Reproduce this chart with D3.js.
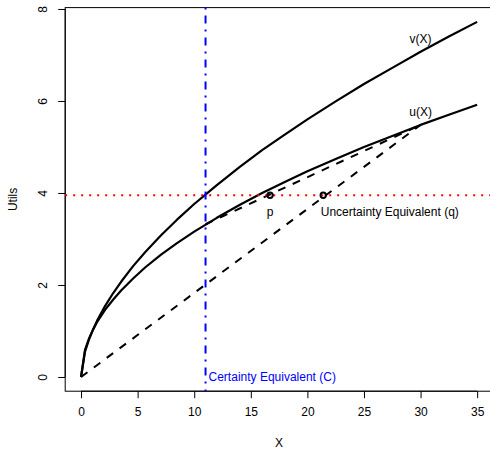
<!DOCTYPE html>
<html><head><meta charset="utf-8">
<script src="https://cdn.jsdelivr.net/npm/d3@7"></script>
<style>
html,body{margin:0;padding:0;background:#fff;}
text{font-family:"Liberation Sans",Arial,Helvetica,sans-serif;}
</style></head>
<body><svg id="c" width="490" height="449"></svg>
<script>
// ---- data ----
const xs = [0, 0.35, 0.71, 1.06, 1.41, 2.12, 2.83, 3.54, 4.6, 5.66, 7.07, 8.48, 10, 12, 14, 16, 18, 20, 22.5, 25, 27.5, 30, 32.5, 35];
const uVals = [0, 0.59, 0.84, 1.03, 1.19, 1.46, 1.68, 1.88, 2.14, 2.38, 2.66, 2.91, 3.16, 3.46, 3.74, 4.00, 4.24, 4.47, 4.74, 5.00, 5.24, 5.48, 5.70, 5.92];
const vVals = [0, 0.55, 0.82, 1.03, 1.22, 1.54, 1.82, 2.07, 2.41, 2.71, 3.08, 3.42, 3.76, 4.17, 4.56, 4.93, 5.27, 5.60, 5.99, 6.37, 6.72, 7.07, 7.40, 7.72];
const xTicks = [0, 5, 10, 15, 20, 25, 30, 35];
const yTicks = [0, 2, 4, 6, 8];
const certaintyX = 11;
const eqLevel = 3.95;
const chord1 = [[0, 0], [30, 5.48]];
const chord2 = [[11, 3.32], [30, 5.48]];
const pointP = [16.7, 3.95];
const pointQ = [21.4, 3.95];
const curveLabels = [{t: "v(X)", x: 30, y: 7.35}, {t: "u(X)", x: 30, y: 5.77}];

// ---- layout ----
const svg = d3.select("#c");
const x = d3.scaleLinear().domain([-1.4, 36.4]).range([65.2, 493]);
const y = d3.scaleLinear().domain([-0.309, 8.03]).range([391.2, 7.6]);
const L = x.range()[0], R = x.range()[1], B = y.range()[0], T = y.range()[1];

// box
svg.append("rect").attr("x", L).attr("y", T).attr("width", R - L).attr("height", B - T)
  .attr("fill", "none").attr("stroke", "#000").attr("stroke-width", 1);

// axes
const xa = svg.append("g").attr("transform", `translate(0,${B})`)
  .call(d3.axisBottom(x).tickValues(xTicks).tickSize(7).tickPadding(9).tickFormat(d3.format("d")));
xa.select(".domain").attr("d", `M${x(0)},0H${x(35)}`);
const ya = svg.append("g").attr("transform", `translate(${L},0)`)
  .call(d3.axisLeft(y).tickValues(yTicks).tickSize(7).tickFormat(d3.format("d")));
ya.select(".domain").attr("d", `M0,${y(0)}V${y(8)}`);
[xa, ya].forEach(g => {
  g.selectAll("path,line").attr("stroke", "#000");
  g.selectAll("text").attr("font-size", 12).attr("fill", "#000").attr("font-family", "Liberation Sans, Arial, sans-serif");
});
xa.selectAll("text").attr("dy", "0.71em").attr("y", 16);
ya.selectAll("text").attr("x", null).attr("dy", null).attr("y", null)
  .attr("text-anchor", "middle")
  .attr("transform", "translate(-18,0) rotate(-90)");

// axis titles
svg.append("text").attr("x", (L + R) / 2).attr("y", 447).attr("text-anchor", "middle")
  .attr("font-size", 12).text("X");
svg.append("text").attr("transform", `translate(17,${(T + B) / 2}) rotate(-90)`)
  .attr("text-anchor", "middle").attr("font-size", 12).text("Utils");

const clip = svg.append("g");

// curves
const line = d3.line().x(d => x(d[0])).y(d => y(d[1]));
const uData = xs.map((d, i) => [d, uVals[i]]);
const vData = xs.map((d, i) => [d, vVals[i]]);
[uData, vData].forEach(dt => clip.append("path").attr("d", line(dt))
  .attr("fill", "none").attr("stroke", "#000").attr("stroke-width", 2.2).attr("stroke-linejoin", "round"));

// chords
[chord1, chord2].forEach(dt => clip.append("path").attr("d", line(dt))
  .attr("fill", "none").attr("stroke", "#000").attr("stroke-width", 2).attr("stroke-dasharray", "8,8"));

// reference lines
clip.append("line").attr("x1", L).attr("x2", R).attr("y1", y(eqLevel)).attr("y2", y(eqLevel))
  .attr("stroke", "#ff0000").attr("stroke-width", 2).attr("stroke-dasharray", "2,6");
clip.append("line").attr("x1", x(certaintyX)).attr("x2", x(certaintyX)).attr("y1", T).attr("y2", B)
  .attr("stroke", "#0000ff").attr("stroke-width", 2).attr("stroke-dasharray", "2,6,8,6");

// points
[pointP, pointQ].forEach(p => clip.append("circle").attr("cx", x(p[0])).attr("cy", y(p[1])).attr("r", 2.7)
  .attr("fill", "none").attr("stroke", "#000").attr("stroke-width", 2));

// labels
svg.append("text").attr("x", x(pointP[0])).attr("y", y(pointP[1]) + 21).attr("text-anchor", "middle")
  .attr("font-size", 12).text("p");
svg.append("text").attr("x", x(pointQ[0]) - 2.5).attr("y", y(pointQ[1]) + 21)
  .attr("font-size", 12).text("Uncertainty Equivalent (q)");
curveLabels.forEach(c => svg.append("text").attr("x", x(c.x)).attr("y", y(c.y) + 4.5)
  .attr("text-anchor", "middle").attr("font-size", 12).text(c.t));
svg.append("text").attr("x", x(certaintyX) + 3).attr("y", y(0) + 4.5)
  .attr("font-size", 12).attr("fill", "#0000ff").text("Certainty Equivalent (C)");
</script></body></html>
